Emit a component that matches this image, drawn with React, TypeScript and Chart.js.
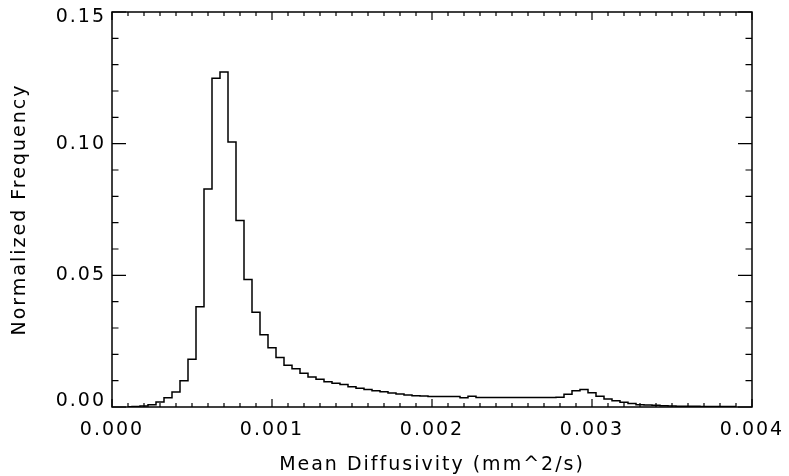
import React, { useEffect, useRef } from 'react';
import { Chart, registerables } from 'chart.js';

Chart.register(...registerables);

// Histogram bins (centres = bin index * BIN_WIDTH), first plotted bin index
const BIN_WIDTH = 0.00005;
const FIRST_BIN = 2;

// Normalized frequency per bin, bins 2 .. 78
const frequency = [
  0.0001, 0.0002, 0.0004, 0.0009, 0.0019, 0.0035, 0.0057, 0.0100, 0.0181, 0.0381,
  0.0828, 0.1248, 0.1272, 0.1006, 0.0708, 0.0484, 0.0360, 0.0274, 0.0225, 0.0188,
  0.0159, 0.0145, 0.0128, 0.0114, 0.0105, 0.0096, 0.0090, 0.0085, 0.0077, 0.0071,
  0.0066, 0.0062, 0.0058, 0.0053, 0.0049, 0.0046, 0.0043, 0.0042, 0.0040, 0.0040,
  0.0040, 0.0040, 0.0035, 0.0041, 0.0036, 0.0036, 0.0036, 0.0036, 0.0036, 0.0036,
  0.0036, 0.0036, 0.0036, 0.0036, 0.0037, 0.0048, 0.0062, 0.0066, 0.0054, 0.0041,
  0.0030, 0.0024, 0.0018, 0.0013, 0.0009, 0.0008, 0.0007, 0.0005, 0.0004, 0.0003,
  0.0003, 0.0003, 0.0002, 0.0002, 0.0002, 0.0002, 0.0002,
];

// Axes
const X_MIN = 0;
const X_MAX = 0.004;
const X_MAJOR = 0.001;
const X_MINOR_PER_MAJOR = 10;
const Y_MIN = 0;
const Y_MAX = 0.15;
const Y_MAJOR = 0.05;
const Y_MINOR_PER_MAJOR = 5;
const X_TITLE = 'Mean Diffusivity (mm^2/s)';
const Y_TITLE = 'Normalized Frequency';

const FONT_FAMILY = '"DejaVu Sans", sans-serif';
const FONT_SIZE = 19;
const LETTER_SPACING = '2px';

const zeroPadding = (scale: any) => {
  scale.paddingLeft = 0;
  scale.paddingRight = 0;
  scale.paddingTop = 0;
  scale.paddingBottom = 0;
};

const idlFrame = {
  id: 'idlFrame',
  beforeLayout(chart: any) {
    chart.ctx.letterSpacing = LETTER_SPACING;
  },
  beforeDraw(chart: any) {
    chart.ctx.letterSpacing = LETTER_SPACING;
  },
  afterDraw(chart: any) {
    const { ctx, chartArea } = chart;
    const { left, right, top, bottom } = chartArea;
    const xs = chart.scales.x;
    const ys = chart.scales.y;
    ctx.save();
    ctx.strokeStyle = '#000';
    ctx.lineWidth = 1.5;
    ctx.strokeRect(left, top, right - left, bottom - top);
    ctx.lineWidth = 1.2;
    ctx.beginPath();
    const nx = Math.round((X_MAX - X_MIN) / X_MAJOR) * X_MINOR_PER_MAJOR;
    for (let k = 0; k <= nx; k++) {
      const v = X_MIN + (k / X_MINOR_PER_MAJOR) * X_MAJOR;
      const px = xs.getPixelForValue(v);
      const len = k % X_MINOR_PER_MAJOR === 0 ? 8 : 4;
      ctx.moveTo(px, bottom);
      ctx.lineTo(px, bottom - len);
      ctx.moveTo(px, top);
      ctx.lineTo(px, top + len);
    }
    const ny = Math.round((Y_MAX - Y_MIN) / Y_MAJOR) * Y_MINOR_PER_MAJOR;
    for (let k = 0; k <= ny; k++) {
      const v = Y_MIN + (k / Y_MINOR_PER_MAJOR) * Y_MAJOR;
      const py = ys.getPixelForValue(v);
      const len = k % Y_MINOR_PER_MAJOR === 0 ? 14 : 6.5;
      ctx.moveTo(left, py);
      ctx.lineTo(left + len, py);
      ctx.moveTo(right, py);
      ctx.lineTo(right - len, py);
    }
    ctx.stroke();
    ctx.restore();
  },
};

export default function App() {
  const canvasRef = useRef<HTMLCanvasElement | null>(null);

  useEffect(() => {
    const canvas = canvasRef.current;
    if (!canvas) return;
    const points = frequency.map((v, i) => ({ x: (FIRST_BIN + i) * BIN_WIDTH, y: v }));
    const chart = new Chart(canvas, {
      type: 'line',
      data: {
        datasets: [
          {
            data: points,
            borderColor: '#000',
            borderWidth: 1.5,
            pointRadius: 0,
            stepped: 'middle',
            fill: false,
          },
        ],
      },
      options: {
        animation: false,
        responsive: false,
        maintainAspectRatio: false,
        events: [],
        layout: { padding: { top: 12, right: 37, bottom: 0, left: 0 } },
        plugins: {
          legend: { display: false },
          tooltip: { enabled: false },
          title: { display: false },
        },
        scales: {
          x: {
            type: 'linear',
            min: X_MIN,
            max: X_MAX,
            grid: { display: false, drawTicks: false },
            border: { display: false },
            ticks: {
              stepSize: X_MAJOR,
              padding: 12,
              color: '#000',
              maxRotation: 0,
              autoSkip: false,
              font: { family: FONT_FAMILY, size: FONT_SIZE },
              callback: (v: any) => Number(v).toFixed(3),
            },
            title: {
              display: true,
              text: X_TITLE,
              color: '#000',
              font: { family: FONT_FAMILY, size: FONT_SIZE },
              padding: { top: 0, bottom: 0 },
            },
            afterFit: (scale: any) => {
              scale.height = 69;
              zeroPadding(scale);
            },
          },
          y: {
            type: 'linear',
            min: Y_MIN,
            max: Y_MAX,
            grid: { display: false, drawTicks: false },
            border: { display: false },
            ticks: {
              stepSize: Y_MAJOR,
              padding: 6,
              color: '#000',
              autoSkip: false,
              font: { family: FONT_FAMILY, size: FONT_SIZE, lineHeight: '11px' },
              callback: (v: any) => {
                const n = Number(v);
                const s = n.toFixed(2);
                if (Math.abs(n - Y_MAX) < 1e-9) return ['', s];
                if (Math.abs(n - Y_MIN) < 1e-9) return [s, ''];
                return s;
              },
            },
            title: {
              display: true,
              text: Y_TITLE,
              color: '#000',
              font: { family: FONT_FAMILY, size: FONT_SIZE },
              padding: { top: 9, bottom: 0 },
            },
            afterFit: (scale: any) => {
              scale.width = 112;
              zeroPadding(scale);
            },
          },
        },
      },
      plugins: [idlFrame],
    });
    return () => chart.destroy();
  }, []);

  return (
    <div style={{ position: 'absolute', left: 0, top: 0, width: 789, height: 476, background: '#fff' }}>
      <canvas ref={canvasRef} width={789} height={476} style={{ display: 'block' }} />
    </div>
  );
}
